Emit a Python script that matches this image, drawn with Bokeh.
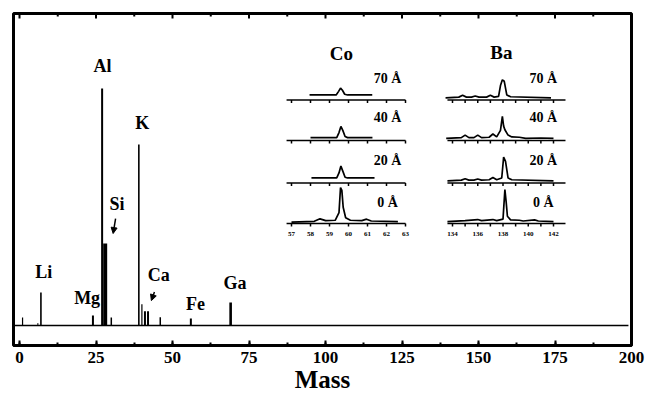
from bokeh.plotting import figure
from bokeh.models import Range1d, SingleIntervalTicker, Arrow, NormalHead
from bokeh.core.properties import value
from bokeh.embed import file_html
from bokeh.resources import INLINE

# ---------------- data: main mass spectrum ----------------
peak_mass = [1, 6, 7, 24, 27, 28, 30, 39, 40, 41, 42, 46, 56, 69]
peak_int = [3.4, 1.0, 13.9, 4.2, 100, 34.6, 3.4, 76.4, 9.0, 6.0, 6.0, 3.5, 3.0, 9.7]
peak_lw = [1.2, 1.0, 1.6, 2.0, 2.0, 4.0, 1.5, 1.6, 1.2, 2.0, 2.0, 1.5, 2.0, 2.6]  # style
baseline_mass = [-2, 199]
baseline_int = [0, 0]

elements = ["Al", "K", "Si", "Li", "Mg", "Ca", "Fe", "Ga"]
elem_x = [27.1, 40.1, 31.9, 7.9, 22.1, 45.5, 57.5, 70.4]
elem_y = [109.3, 85.4, 51.1, 22.5, 11.5, 21.1, 8.9, 17.8]

major_ticks_main = [0, 25, 50, 75, 100, 125, 150, 175, 200]
minor_ticks_main = [12.5, 37.5, 62.5, 87.5, 112.5, 137.5, 162.5, 187.5]

# ---------------- data: insets ----------------
thickness = ["70 Å", "40 Å", "20 Å", "0 Å"]

co_ticks = [57, 58, 59, 60, 61, 62, 63]
co_tick_labels = ["57", "58", "59", "60", "61", "62", "63"]
co_axis = [56.74, 63.0]
co_x = [
    [57.95, 59.35, 59.48, 59.58, 59.68, 59.8, 59.95, 61.25],
    [58.0, 59.38, 59.5, 59.6, 59.7, 59.82, 59.95, 61.26],
    [58.05, 59.38, 59.5, 59.6, 59.7, 59.82, 59.95, 61.37],
    [57.0, 58.2, 58.5, 58.8, 59.3, 59.5, 59.58, 59.65, 59.72, 59.85, 60.1, 60.7, 60.95, 61.2, 62.6],
]
co_y = [
    [14, 14, 24, 33, 27, 16, 14, 14],
    [8, 8, 22, 39, 28, 11, 8, 8],
    [14, 14, 28, 47, 33, 16, 14, 14],
    [4, 6, 13, 8, 9, 30, 100, 92, 45, 16, 9, 8, 12, 7, 5],
]

ba_ticks = [134, 135, 136, 137, 138, 139, 140, 141, 142]
ba_label_ticks = [134, 136, 138, 140, 142]
ba_tick_labels = ["134", "136", "138", "140", "142"]
ba_axis = [133.6, 142.95]
ba_x = [
    [133.45, 134.5, 134.8, 135.1, 135.5, 135.8, 136.1, 136.7, 137.0, 137.3, 137.65, 137.8, 137.95, 138.1, 138.3, 138.6, 141.8],
    [133.5, 134.7, 135.0, 135.3, 135.7, 136.0, 136.3, 136.9, 137.2, 137.5, 137.8, 137.95, 138.05, 138.15, 138.4, 138.7, 139.3, 139.8, 141.0, 142.0],
    [133.6, 134.7, 135.0, 135.3, 135.7, 136.0, 136.3, 136.9, 137.2, 137.5, 137.9, 138.05, 138.2, 138.4, 138.7, 142.0],
    [133.6, 135.0, 136.0, 136.3, 137.2, 137.5, 138.0, 138.15, 138.25, 138.35, 138.6, 139.3, 139.6, 140.5, 140.8, 142.0],
]
ba_y = [
    [6, 8, 13, 8, 8, 11, 8, 8, 13, 8, 10, 40, 56, 52, 14, 9, 6],
    [6, 8, 15, 8, 8, 15, 8, 9, 18, 10, 28, 67, 40, 30, 15, 10, 9, 6, 7, 6],
    [6, 8, 12, 8, 8, 11, 8, 9, 15, 9, 14, 72, 60, 14, 9, 6],
    [5, 8, 11, 8, 11, 8, 12, 94, 60, 20, 10, 9, 7, 10, 7, 5],
]

# ---------------- layout helpers ----------------
W, H = 646, 399
FX0, FX1, FY0, FY1 = 13, 631, 13, 345
SERIF = value("Liberation Serif")
SX_MAIN, SY_MAIN = 3.06, 2.37


def xrange_for(a, pa, s):
    start = a - (pa - FX0) / s
    return Range1d(start=start, end=start + (FX1 - FX0) / s)


def yrange_for(pz, s):
    start = -(FY1 - pz) / s
    return Range1d(start=start, end=start + (FY1 - FY0) / s)


main_y = yrange_for(325, SY_MAIN)
p = figure(width=W, height=H, output_backend="svg", toolbar_location=None,
           x_range=xrange_for(0, 19, SX_MAIN), y_range=main_y,
           y_axis_location=None, min_border_left=FX0, min_border_right=W - FX1,
           min_border_top=FY0, min_border_bottom=H - FY1)
p.grid.visible = False
p.outline_line_color = "black"
p.outline_line_width = 3
p.background_fill_color = "white"
p.border_fill_color = "white"

xa = p.xaxis[0]
xa.ticker = SingleIntervalTicker(interval=25, num_minor_ticks=2)
xa.axis_line_width = 3
xa.major_tick_in = 5
xa.major_tick_out = 0
xa.minor_tick_in = 3
xa.minor_tick_out = 0
xa.major_tick_line_width = 2
xa.minor_tick_line_width = 2
xa.major_label_text_font = "Liberation Serif"
xa.major_label_text_font_style = "bold"
xa.major_label_text_font_size = "17px"
xa.major_label_text_color = "black"
xa.major_label_standoff = 6
xa.axis_label = "Mass"
xa.axis_label_text_font = "Liberation Serif"
xa.axis_label_text_font_style = "bold"
xa.axis_label_text_font_size = "25px"
xa.axis_label_text_color = "black"
xa.axis_label_standoff = 0

# inward tick marks along the top edge of the frame
top_y = main_y.end
p.segment(x0=major_ticks_main, y0=[top_y] * len(major_ticks_main), x1=major_ticks_main,
          y1=[top_y - 5 / SY_MAIN] * len(major_ticks_main), line_color="black", line_width=2)
p.segment(x0=minor_ticks_main, y0=[top_y] * len(minor_ticks_main), x1=minor_ticks_main,
          y1=[top_y - 3 / SY_MAIN] * len(minor_ticks_main), line_color="black", line_width=2)

# main spectrum
p.line(baseline_mass, baseline_int, line_color="black", line_width=1.6)
for m, v, lw in zip(peak_mass, peak_int, peak_lw):
    p.segment(x0=[m], y0=[0], x1=[m], y1=[v], line_color="black", line_width=lw)

p.text(x=elem_x, y=elem_y, text=elements, text_font=SERIF, text_font_style="bold",
       text_font_size="18px", text_align="center", text_baseline="middle", text_color="black")

# arrows to Si and Ca
for (x0, y0, x1, y1) in [(31.4, 45.1, 30.6, 38.8), (44.1, 14.1, 43.1, 10.5)]:
    p.add_layout(Arrow(x_start=x0, y_start=y0, x_end=x1, y_end=y1, line_width=1.5,
                       line_color="black",
                       end=NormalHead(size=6, fill_color="black", line_color="black")))

# ---------------- insets ----------------
S_IN = 0.36
p.extra_x_ranges = {"co": xrange_for(57, 291, 19.0), "ba": xrange_for(134, 452, 12.625)}
panel_names = ["t70", "t40", "t20", "t0"]
panel_axis_px = [99.5, 140, 182.5, 223]
p.extra_y_ranges = {n: yrange_for(py, S_IN) for n, py in zip(panel_names, panel_axis_px)}

tick_len = 3 / S_IN
for rname, axis, ticks, lab_ticks, labs, xs, ys in [
    ("co", co_axis, co_ticks, co_ticks, co_tick_labels, co_x, co_y),
    ("ba", ba_axis, ba_ticks, ba_label_ticks, ba_tick_labels, ba_x, ba_y),
]:
    for i, yn in enumerate(panel_names):
        p.line(axis, [0, 0], x_range_name=rname, y_range_name=yn, line_color="black", line_width=1.5)
        p.segment(x0=ticks, y0=[0] * len(ticks), x1=ticks, y1=[-tick_len] * len(ticks),
                  x_range_name=rname, y_range_name=yn, line_color="black", line_width=1.5)
        p.line(xs[i], ys[i], x_range_name=rname, y_range_name=yn, line_color="black", line_width=1.7)
        if yn == "t0":
            p.text(x=lab_ticks, y=[-10 / S_IN] * len(lab_ticks), text=labs,
                   x_range_name=rname, y_range_name=yn,
                   text_font=value("Liberation Sans Narrow"), text_font_style="bold",
                   text_font_size="7px", text_align="center", text_baseline="middle",
                   text_color="black")

# inset titles and thickness labels (main coordinates)
p.text(x=[105.2, 157.5], y=[114.8, 115.2], text=["Co", "Ba"], text_font=SERIF,
       text_font_style="bold", text_font_size="19px", text_align="center",
       text_baseline="middle", text_color="black")
lab_y = [104.2, 87.6, 69.6, 51.9]
p.text(x=[120.3] * 4, y=lab_y, text=thickness, text_font=SERIF, text_font_style="bold",
       text_font_size="14px", text_align="center", text_baseline="middle", text_color="black")
p.text(x=[171.2] * 4, y=lab_y, text=thickness, text_font=SERIF, text_font_style="bold",
       text_font_size="14px", text_align="center", text_baseline="middle", text_color="black")

open("out.html", "w").write(file_html(p, INLINE))
